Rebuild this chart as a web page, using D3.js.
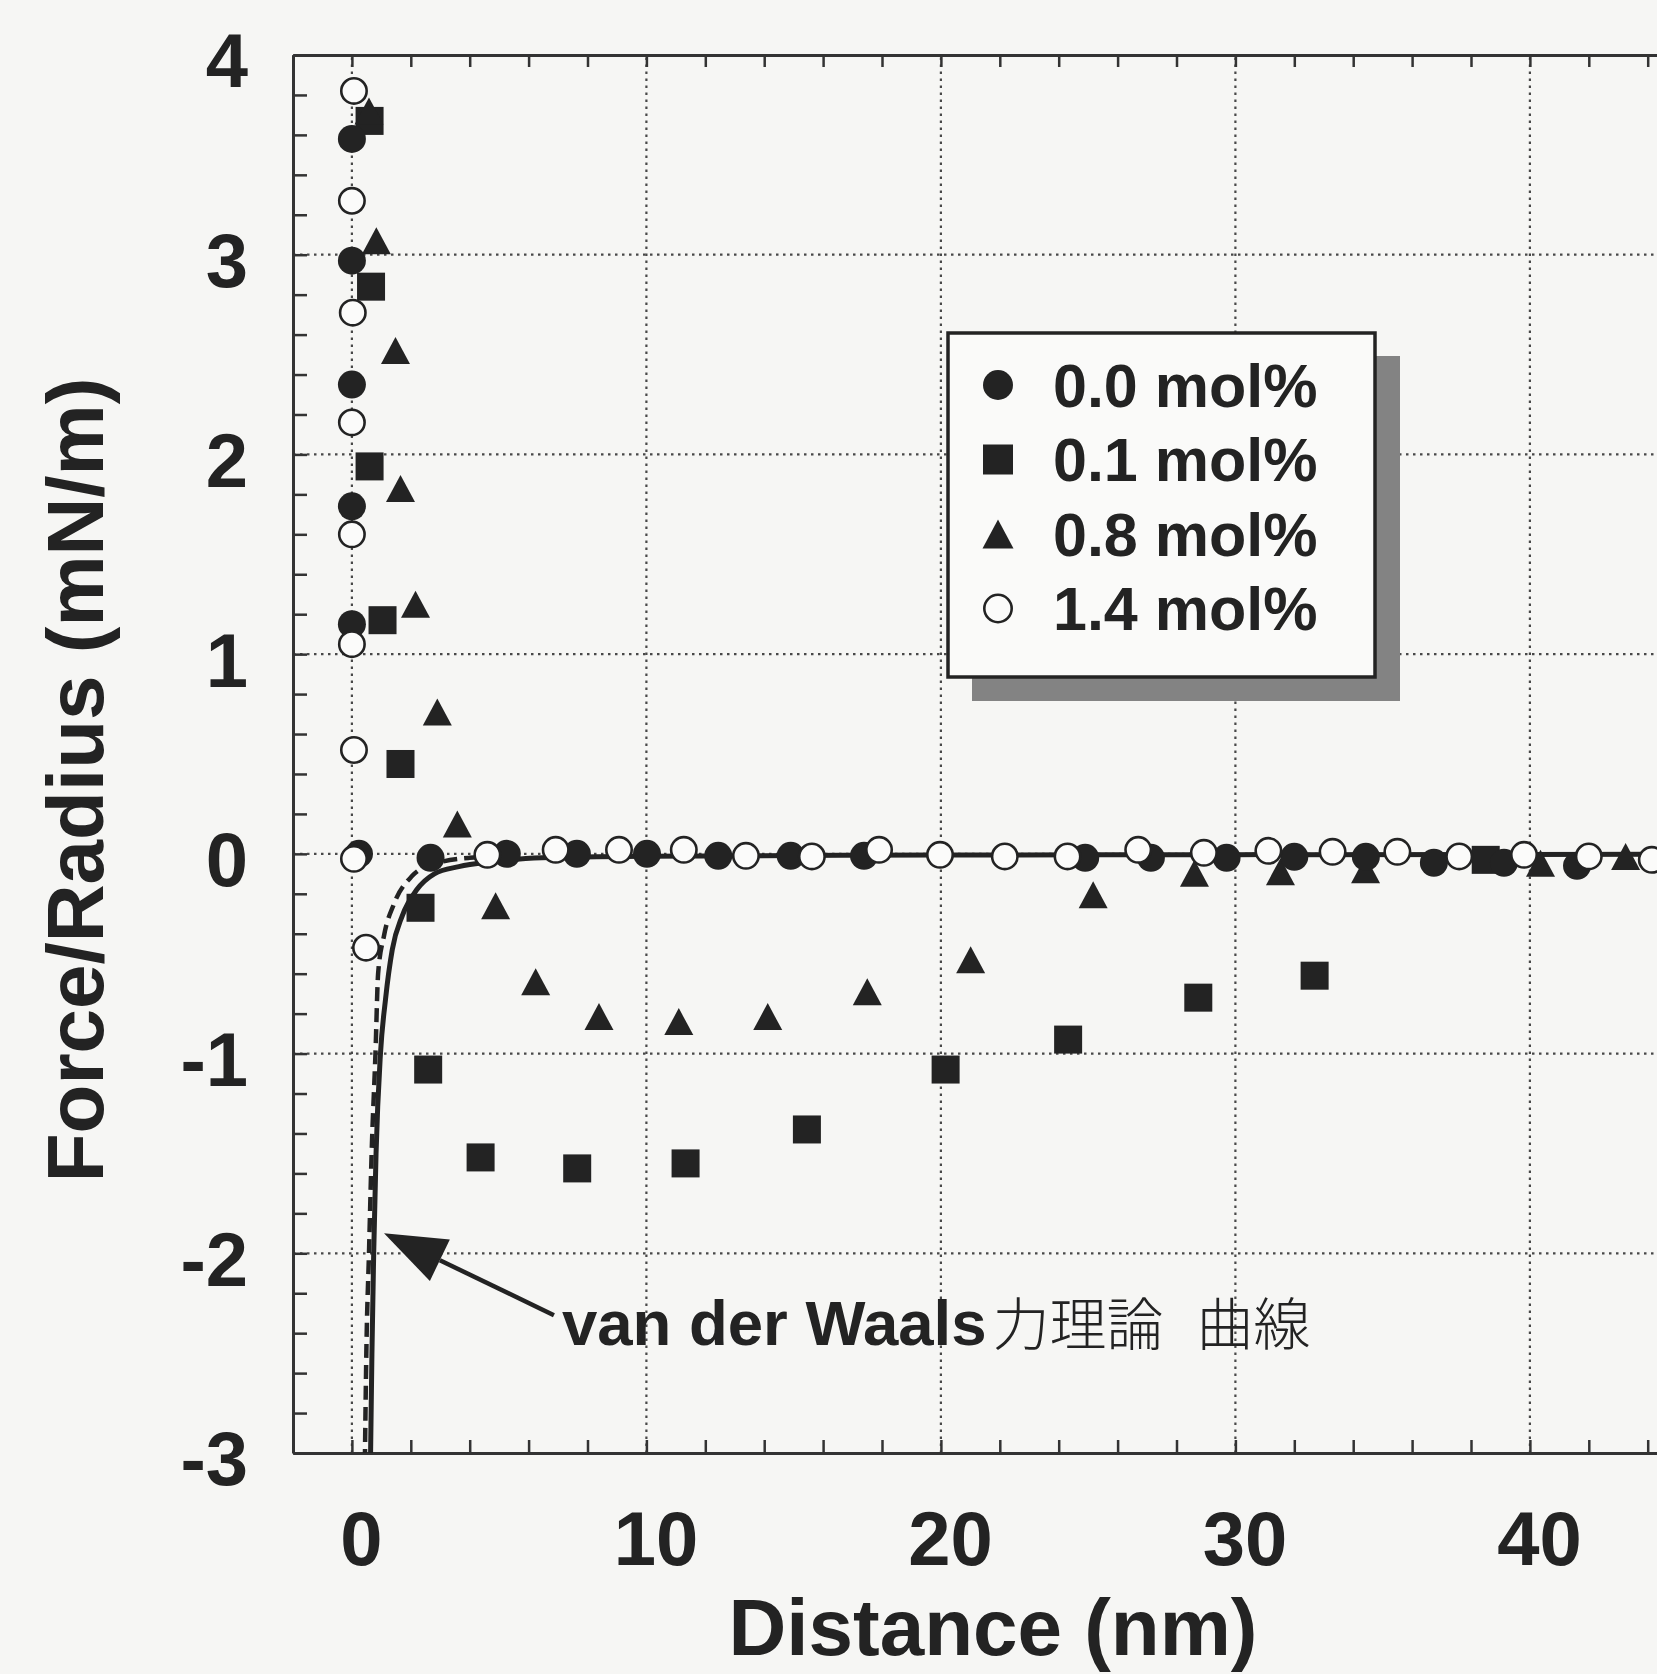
<!DOCTYPE html>
<html>
<head>
<meta charset="utf-8">
<script src="https://cdn.jsdelivr.net/npm/d3@7/dist/d3.min.js"></script>
<style>
  html, body { margin: 0; padding: 0; background: #f6f6f4; }
  svg { display: block; }
</style>
</head>
<body>
<script>
// ---------------- DATA ----------------
const seriesNames = ["0.0 mol%", "0.1 mol%", "0.8 mol%", "1.4 mol%"];

// 0.0 mol% (filled circles)
const mol00X = [0, 0, 0, 0, 0, 0.24, 2.67, 5.26, 7.64, 10.02, 12.44, 14.9, 17.39, 24.9, 27.13, 29.7, 32.0, 34.43, 36.74, 39.12, 41.6];
const mol00Y = [3.58, 2.97, 2.35, 1.74, 1.15, 0.0, -0.02, 0.0, 0.0, 0.0, -0.01, -0.01, -0.01, -0.02, -0.02, -0.02, -0.015, -0.015, -0.045, -0.045, -0.06];

// 0.1 mol% (filled squares)
const mol01X = [0.6, 0.65, 0.6, 1.04, 1.65, 2.33, 2.59, 4.37, 7.65, 11.33, 15.45, 20.16, 24.32, 28.74, 32.69, 38.5];
const mol01Y = [3.67, 2.84, 1.94, 1.17, 0.45, -0.27, -1.08, -1.52, -1.575, -1.55, -1.38, -1.08, -0.93, -0.72, -0.61, -0.03];

// 0.8 mol% (filled triangles)
const mol08X = [0.58, 0.83, 1.48, 1.65, 2.16, 2.90, 3.58, 4.88, 6.24, 8.39, 11.10, 14.12, 17.50, 21.01, 25.17, 28.61, 31.53, 34.42, 40.36, 43.25];
const mol08Y = [3.72, 3.07, 2.52, 1.83, 1.25, 0.71, 0.15, -0.26, -0.64, -0.815, -0.84, -0.815, -0.69, -0.53, -0.205, -0.097, -0.089, -0.08, -0.047, -0.013];

// 1.4 mol% (open circles)
const mol14X = [0.07, 0, 0.03, 0, 0, 0, 0.07, 0.07, 0.48, 4.6, 6.92, 9.07, 11.27, 13.38, 15.62, 17.9, 19.97, 22.17, 24.3, 26.7, 28.93, 31.12, 33.3, 35.5, 37.6, 39.8, 42.0, 44.14];
const mol14Y = [3.82, 3.27, 2.71, 2.16, 1.60, 1.05, 0.52, -0.025, -0.47, -0.005, 0.02, 0.02, 0.02, -0.01, -0.013, 0.02, -0.005, -0.013, -0.013, 0.02, 0.005, 0.015, 0.01, 0.01, -0.013, -0.005, -0.013, -0.03];

// van der Waals theory curves
const vdwSolidX = [0.63, 0.68, 0.74, 0.82, 0.97, 1.14, 1.37, 1.71, 2.2, 2.8, 3.63, 4.76, 6.45, 10, 20, 30, 50];
const vdwSolidY = [-3.05, -2.5, -2.0, -1.5, -1.0, -0.73, -0.48, -0.31, -0.18, -0.1, -0.064, -0.04, -0.02, -0.012, -0.006, -0.004, -0.002];
const vdwDashX = [0.44, 0.49, 0.58, 0.67, 0.8, 0.89, 1.09, 1.43, 2.05, 2.8, 4.0, 5.5];
const vdwDashY = [-3.05, -2.5, -2.0, -1.5, -1.0, -0.6, -0.41, -0.25, -0.11, -0.05, -0.02, -0.01];

// axes
const xDomain = [-2, 50];
const yDomain = [-3, 4];
const xTickLabels = [0, 10, 20, 30, 40];
const yTickLabels = [-3, -2, -1, 0, 1, 2, 3, 4];
const xGrid = [0, 10, 20, 30, 40];
const yGrid = [-2, -1, 0, 1, 2, 3];
const xMinor = d3.range(-2, 50.001, 2);
const yMinor = d3.range(-3, 4.001, 0.2).map(v => Math.round(v * 10) / 10);

const xTitle = "Distance (nm)";
const yTitle = "Force/Radius (mN/m)";
const annotLatin = "van der Waals";
const annotCJK1 = "力理論";
const annotCJK2 = "曲線";
const annotTip = [1.09, -1.9];
const annotTail = [6.86, -2.31];
const annotText = [7.13, -2.46];

// ---------------- DRAWING ----------------
const W = 1657, H = 1674;
const ink = "#232323";
const bg = "#f6f6f4";
const svg = d3.select("body").append("svg").attr("width", W).attr("height", H);
svg.append("rect").attr("width", W).attr("height", H).attr("fill", bg);

const x = d3.scaleLinear().domain(xDomain).range([293, 293 + 52 * 29.45]);
const y = d3.scaleLinear().domain(yDomain).range([1453, 55]);

const defs = svg.append("defs");
defs.append("clipPath").attr("id", "plotclip").append("rect")
  .attr("x", x(xDomain[0])).attr("y", y(yDomain[1]))
  .attr("width", x(xDomain[1]) - x(xDomain[0])).attr("height", y(yDomain[0]) - y(yDomain[1]));

// gridlines
const grid = svg.append("g").attr("stroke", "#484848").attr("stroke-width", 2.2).attr("stroke-dasharray", "2.5,4.5");
grid.selectAll("line.gx").data(xGrid).join("line").attr("class", "gx")
  .attr("x1", d => x(d)).attr("x2", d => x(d)).attr("y1", y(yDomain[0])).attr("y2", y(yDomain[1]));
grid.selectAll("line.gy").data(yGrid).join("line").attr("class", "gy")
  .attr("y1", d => y(d)).attr("y2", d => y(d)).attr("x1", x(xDomain[0])).attr("x2", x(xDomain[1]));

// axes with inward minor ticks
function styleAxis(g) {
  g.select(".domain").attr("stroke", "#333").attr("stroke-width", 3);
  g.selectAll(".tick line").attr("stroke", "#333").attr("stroke-width", 2.5);
}
svg.append("g").attr("transform", `translate(${x(xDomain[0])},0)`)
  .call(d3.axisLeft(y).tickValues(yMinor).tickSize(-14).tickSizeOuter(0).tickFormat(""))
  .call(styleAxis);
svg.append("g").attr("transform", `translate(0,${y(yDomain[0])})`)
  .call(d3.axisBottom(x).tickValues(xMinor).tickSize(-13).tickSizeOuter(0).tickFormat(""))
  .call(styleAxis);
svg.append("g").attr("transform", `translate(0,${y(yDomain[1])})`)
  .call(d3.axisTop(x).tickValues(xMinor).tickSize(-12).tickSizeOuter(0).tickFormat(""))
  .call(styleAxis);

// tick labels
const yl = svg.append("g").attr("transform", `translate(${x(xDomain[0])},0)`)
  .call(d3.axisLeft(y).tickValues(yTickLabels).tickSize(0).tickPadding(45).tickFormat(d => String(d)));
yl.select(".domain").remove();
yl.selectAll("text").attr("font-family", "'Liberation Sans', Arial, sans-serif")
  .attr("font-weight", "bold").attr("font-size", 76).attr("fill", ink).attr("dy", "0.42em");

const xl = svg.append("g").attr("transform", `translate(0,${y(yDomain[0])})`)
  .call(d3.axisBottom(x).tickValues(xTickLabels).tickSize(0).tickPadding(58).tickFormat(d => String(d)));
xl.select(".domain").remove();
xl.selectAll("text").attr("font-family", "'Liberation Sans', Arial, sans-serif")
  .attr("font-weight", "bold").attr("font-size", 76).attr("fill", ink).attr("dx", 9);

// axis titles
svg.append("text").attr("x", 993).attr("y", 1655).attr("text-anchor", "middle")
  .attr("font-family", "'Liberation Sans', Arial, sans-serif").attr("font-weight", "bold")
  .attr("font-size", 80).attr("fill", ink).text(xTitle);
svg.append("text").attr("transform", "translate(103,780) rotate(-90)").attr("text-anchor", "middle")
  .attr("font-family", "'Liberation Sans', Arial, sans-serif").attr("font-weight", "bold")
  .attr("font-size", 80).attr("fill", ink).text(yTitle);

// curves
const plot = svg.append("g").attr("clip-path", "url(#plotclip)");
const line = d3.line().x(d => x(d[0])).y(d => y(d[1])).curve(d3.curveMonotoneX);
plot.append("path").datum(d3.zip(vdwDashX, vdwDashY)).attr("d", line)
  .attr("fill", "none").attr("stroke", ink).attr("stroke-width", 4.5).attr("stroke-dasharray", "14,7");
plot.append("path").datum(d3.zip(vdwSolidX, vdwSolidY)).attr("d", line)
  .attr("fill", "none").attr("stroke", ink).attr("stroke-width", 5);

// marker shapes
const triPath = (w, h) => `M0,${-h / 2}L${w / 2},${h / 2}L${-w / 2},${h / 2}Z`;
function drawMarker(sel, type, size) {
  if (type === 0) sel.append("circle").attr("r", size / 2).attr("fill", ink);
  else if (type === 1) sel.append("rect").attr("x", -size / 2).attr("y", -size / 2).attr("width", size).attr("height", size).attr("fill", ink);
  else if (type === 2) sel.append("path").attr("d", triPath(size + 1, size - 1)).attr("fill", ink);
  else sel.append("circle").attr("r", size / 2 - 1.3).attr("fill", "#fbfbfa").attr("stroke", ink).attr("stroke-width", 2.6);
}
const allSeries = [
  { type: 1, xs: mol01X, ys: mol01Y },
  { type: 2, xs: mol08X, ys: mol08Y },
  { type: 0, xs: mol00X, ys: mol00Y },
  { type: 3, xs: mol14X, ys: mol14Y }
];
allSeries.forEach(s => {
  const pts = d3.zip(s.xs, s.ys);
  plot.append("g").selectAll("g").data(pts).join("g")
    .attr("transform", d => `translate(${x(d[0])},${y(d[1])})`)
    .each(function () { drawMarker(d3.select(this), s.type, 28); });
});

// annotation arrow + text
const tip = [x(annotTip[0]), y(annotTip[1])];
const tail = [x(annotTail[0]), y(annotTail[1])];
const ang = Math.atan2(tip[1] - tail[1], tip[0] - tail[0]);
const headLen = 62, headHalf = 23;
const bx = tip[0] - headLen * Math.cos(ang), by = tip[1] - headLen * Math.sin(ang);
svg.append("line").attr("x1", tail[0]).attr("y1", tail[1]).attr("x2", bx).attr("y2", by)
  .attr("stroke", ink).attr("stroke-width", 4.5);
svg.append("path").attr("fill", ink).attr("d",
  `M${tip[0]},${tip[1]}L${bx + headHalf * Math.sin(ang)},${by - headHalf * Math.cos(ang)}L${bx - headHalf * Math.sin(ang)},${by + headHalf * Math.cos(ang)}Z`);
const at = svg.append("text").attr("x", x(annotText[0])).attr("y", y(annotText[1])).attr("fill", ink);
at.append("tspan").attr("font-family", "'Liberation Sans', Arial, sans-serif").attr("font-weight", "bold")
  .attr("font-size", 63.5).text(annotLatin);
at.append("tspan").attr("font-family", "'Noto Sans CJK JP', sans-serif").attr("font-weight", 300)
  .attr("font-size", 57).attr("dx", 6).text(annotCJK1);
at.append("tspan").attr("font-family", "'Noto Sans CJK JP', sans-serif").attr("font-weight", 300)
  .attr("font-size", 57).attr("dx", 33).text(annotCJK2);

// legend
const lg = svg.append("g").attr("transform", "translate(948,333)");
lg.append("rect").attr("x", 24).attr("y", 23).attr("width", 428).attr("height", 345).attr("fill", "#838383");
lg.append("rect").attr("x", 0).attr("y", 0).attr("width", 427).attr("height", 344)
  .attr("fill", "#fafaf9").attr("stroke", ink).attr("stroke-width", 3.5);
seriesNames.forEach((name, i) => {
  const row = lg.append("g").attr("transform", `translate(0,${52 + i * 74.5})`);
  drawMarker(row.append("g").attr("transform", "translate(50,0)"), i, 30);
  row.append("text").attr("x", 105).attr("y", 0).attr("dy", "0.36em")
    .attr("font-family", "'Liberation Sans', Arial, sans-serif").attr("font-weight", "bold")
    .attr("font-size", 61).attr("fill", ink).text(name);
});
</script>
</body>
</html>
